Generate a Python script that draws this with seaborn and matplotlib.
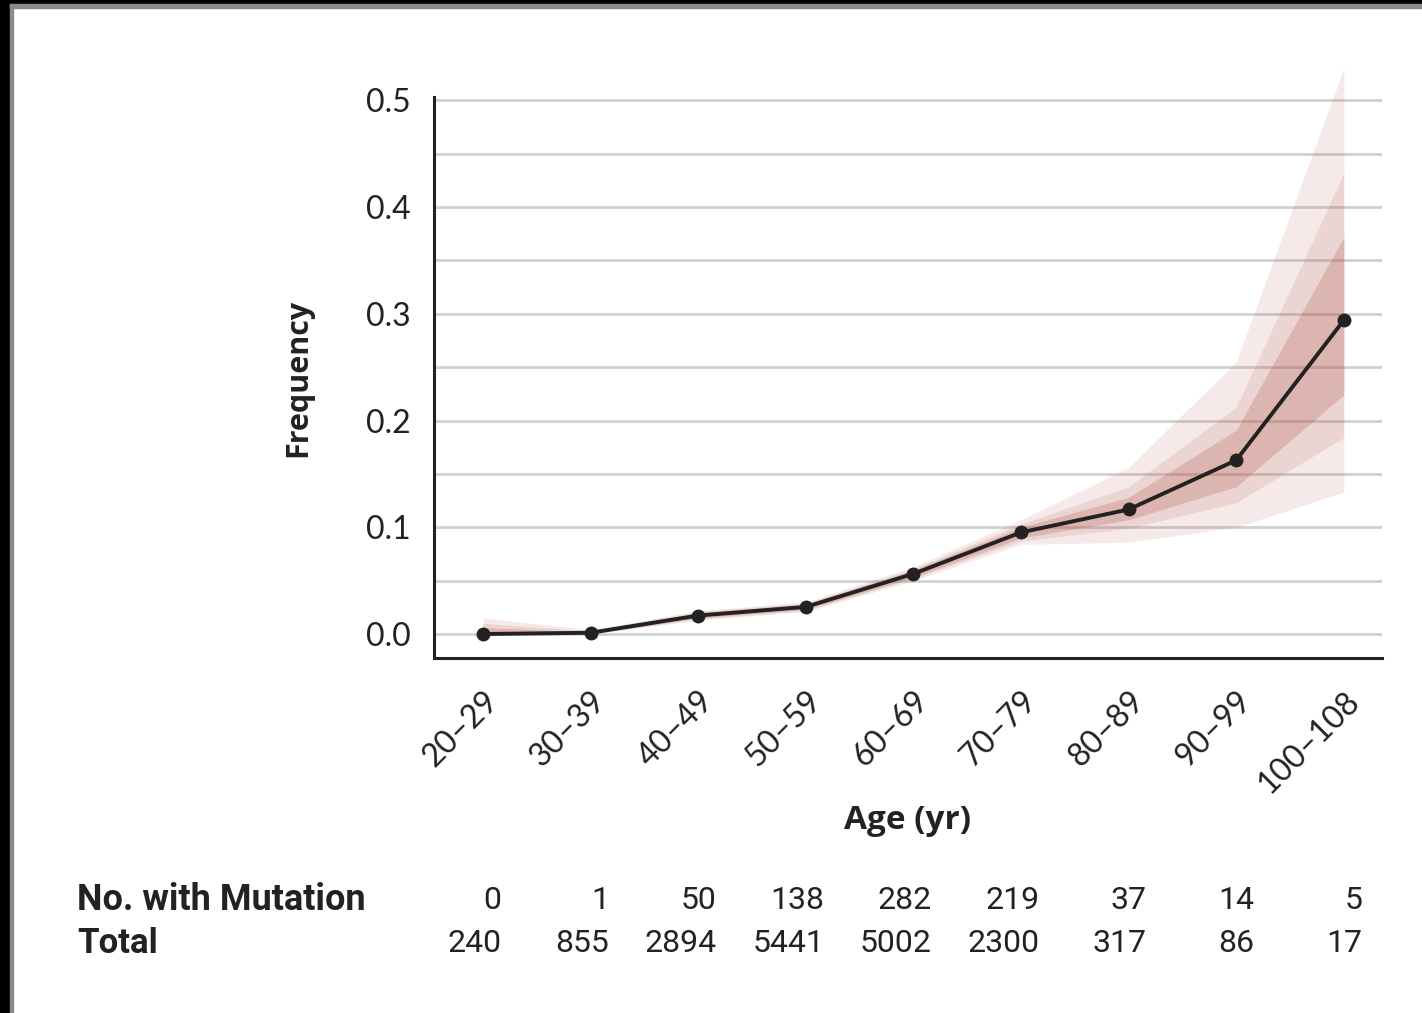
import matplotlib
matplotlib.use("Agg")
import matplotlib.pyplot as plt
import matplotlib.transforms as mtransforms
from matplotlib.patches import Rectangle
import numpy as np
import pandas as pd
import seaborn as sns

# ---------------- data ----------------
age_groups = ["20–29", "30–39", "40–49", "50–59", "60–69", "70–79", "80–89", "90–99", "100–108"]
frequency = [0.0, 0.0012, 0.0173, 0.0254, 0.0564, 0.0952, 0.1167, 0.1628, 0.294]
n_mutation = [0, 1, 50, 138, 282, 219, 37, 14, 5]
n_total = [240, 855, 2894, 5441, 5002, 2300, 317, 86, 17]

# nested uncertainty bands (outer, middle, inner)
outer_lo = [0.0, 0.0, 0.013, 0.021, 0.050, 0.084, 0.086, 0.100, 0.133]
outer_hi = [0.015, 0.004, 0.022, 0.030, 0.063, 0.107, 0.156, 0.255, 0.530]
mid_lo = [0.0, 0.0, 0.014, 0.022, 0.052, 0.087, 0.099, 0.123, 0.184]
mid_hi = [0.010, 0.003, 0.021, 0.029, 0.061, 0.103, 0.138, 0.2125, 0.432]
inner_lo = [0.0, 0.0, 0.015, 0.023, 0.053, 0.090, 0.107, 0.138, 0.224]
inner_hi = [0.006, 0.002, 0.020, 0.028, 0.060, 0.100, 0.128, 0.191, 0.372]

yticks = [0.0, 0.1, 0.2, 0.3, 0.4, 0.5]
ytick_labels = ["0.0", "0.1", "0.2", "0.3", "0.4", "0.5"]
grid_levels = [0.0, 0.05, 0.1, 0.15, 0.2, 0.25, 0.3, 0.35, 0.4, 0.45, 0.5]

df = pd.DataFrame({"pos": np.arange(len(age_groups)), "freq": frequency})

# ---------------- style ----------------
sns.set_style("white")
plt.rcParams["font.family"] = ["Open Sans", "DejaVu Sans"]
tickfam = ["Lato", "DejaVu Sans"]
tabfam = ["Roboto", "DejaVu Sans"]

fig = plt.figure(figsize=(14.22, 10.13), dpi=100)
ax = fig.add_axes([0.3052, 0.3504, 0.9719 - 0.3052, 0.9042 - 0.3504])

# frame of the reference image
fig.patches.append(Rectangle((0, 0), 10 / 1422, 1, transform=fig.transFigure, color="black", zorder=-5))
fig.patches.append(Rectangle((0, 1 - 4 / 1013), 1, 4 / 1013, transform=fig.transFigure, color="black", zorder=-5))
fig.patches.append(Rectangle((10 / 1422, 0), 3 / 1422, 1 - 4 / 1013, transform=fig.transFigure, color="#8a8a8a", zorder=-4))
fig.patches.append(Rectangle((10 / 1422, 1 - 8 / 1013), 1, 4 / 1013, transform=fig.transFigure, color="#8a8a8a", zorder=-4))

# gridlines
for g in grid_levels:
    ax.axhline(g, color="#d0d0d0", lw=2, zorder=0)

band_color = "#b85f58"
x = df["pos"].values
ax.fill_between(x, outer_lo, outer_hi, color=band_color, alpha=0.13, lw=0, zorder=1, clip_on=False)
ax.fill_between(x, mid_lo, mid_hi, color=band_color, alpha=0.15, lw=0, zorder=1, clip_on=False)
ax.fill_between(x, inner_lo, inner_hi, color=band_color, alpha=0.28, lw=0, zorder=1, clip_on=False)

sns.lineplot(data=df, x="pos", y="freq", ax=ax, color="#222222", lw=2.8,
             marker="o", markersize=10, markeredgewidth=0, zorder=3)

ax.set_xlim(-0.455, 8.355)
ax.set_ylim(-0.0225, 0.503)

ax.set_xticks(x)
ax.set_xticklabels(age_groups, rotation=45, ha="right", rotation_mode="anchor",
                   fontsize=23, color="#222222", family=tickfam)
ax.set_yticks(yticks)
ax.set_yticklabels(ytick_labels, fontsize=23, color="#222222", family=tickfam)
ax.tick_params(axis="both", direction="out", length=12, width=2, color="#222222", pad=5)
ax.tick_params(axis="x", pad=8)

for s in ["top", "right"]:
    ax.spines[s].set_visible(False)
for s in ["left", "bottom"]:
    ax.spines[s].set_linewidth(2.2)
    ax.spines[s].set_color("#222222")

ax.set_xlabel("Age (yr)", fontsize=24, fontweight="bold", color="#222222")
ax.xaxis.set_label_coords(0.5, -0.2605)
ax.set_ylabel("Frequency", fontsize=22, fontweight="bold", color="#222222")
ax.yaxis.set_label_coords(-0.127, 0.5)

# table below
trans = mtransforms.blended_transform_factory(ax.transData, fig.transFigure)
row1_y = 1 - 900 / 1013
row2_y = 1 - 943 / 1013
fig.text(77 / 1422, row1_y, "No. with Mutation", fontsize=26, fontweight="bold",
         family=tabfam, va="center", ha="left", color="#222222")
fig.text(77 / 1422, row2_y, "Total", fontsize=25, fontweight="bold",
         family=tabfam, va="center", ha="left", color="#222222")
for i in range(len(age_groups)):
    ax.text(i + 0.17, row1_y, str(n_mutation[i]), transform=trans, fontsize=23,
            family=tabfam, va="center", ha="right", color="#222222", clip_on=False)
    ax.text(i + 0.17, row2_y, str(n_total[i]), transform=trans, fontsize=23,
            family=tabfam, va="center", ha="right", color="#222222", clip_on=False)

fig.savefig("out.png", dpi=100)
